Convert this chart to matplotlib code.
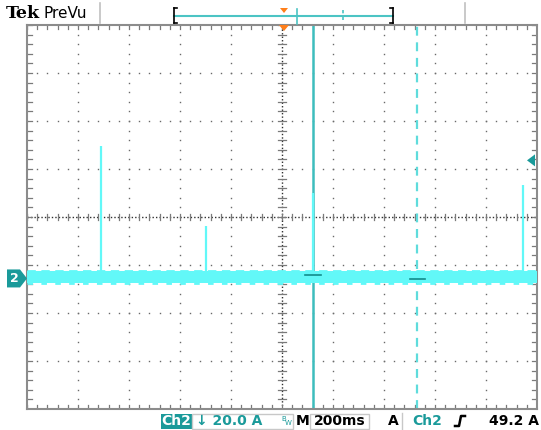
import matplotlib
matplotlib.use("Agg")
import matplotlib.pyplot as plt
import numpy as np
from matplotlib.patches import Polygon, Rectangle

# ---------------- data ----------------
time_per_div = 0.2          # s/div (200ms)
volts_per_div = 20.0        # A/div
ground_div = -1.28          # channel 2 ground marker position (div from centre)
trigger_level = 49.2        # A
noise_low = -1.8            # A  (baseline noise band)
noise_high = 3.3            # A
spike_times = [-0.71, -0.298, 0.122, 0.946]   # s
spike_peaks = [55.0, 22.0, 35.6, 39.0]        # A
cursor_times = [0.122, 0.53]                  # s (solid, dashed)
cursor_levels = [1.5, -0.2]                   # A (cursor readout marks)
labels_bottom = ["Ch2", "\u2193 20.0 A", "M", "200ms", "A", "Ch2", "49.2 A"]

W, H = 541, 430
fig = plt.figure(figsize=(W / 100, H / 100), dpi=100)
fig.patch.set_facecolor("white")

def fx(x):
    return x / W

def fy(y):
    return 1 - y / H

L, R, T, B = 27, 537, 25, 409
ax = fig.add_axes([fx(L), fy(B), (R - L) / W, (B - T) / H])
xmin, xmax = -5 * time_per_div, 5 * time_per_div
ymin = (-4 - ground_div) * volts_per_div
ymax = (4 - ground_div) * volts_per_div
ax.set_xlim(xmin, xmax)
ax.set_ylim(ymin, ymax)
ax.set_xticks([])
ax.set_yticks([])
for s in ax.spines.values():
    s.set_color("#8c8c8c")
    s.set_linewidth(1.5)

grid_c = "#6a6a6a"
xs_major = [(k - 5) * time_per_div for k in range(11)]
ys_major = [(k - ground_div) * volts_per_div for k in range(-4, 5)]
xs_minor = [(k / 5 - 5) * time_per_div for k in range(51)]
ys_minor = [(k / 5 - ground_div) * volts_per_div for k in range(-20, 21)]

# dotted major grid lines
for gx in xs_major[1:-1]:
    if abs(gx) < 1e-9:
        continue
    ax.plot([gx] * len(ys_minor), ys_minor, ls="none", marker="s", ms=1.0,
            color=grid_c, mew=0, zorder=1)
for gy in ys_major[1:-1]:
    if abs(gy - (-ground_div * volts_per_div)) < 1e-9:
        continue
    ax.plot(xs_minor, [gy] * len(xs_minor), ls="none", marker="s", ms=1.0,
            color=grid_c, mew=0, zorder=1)

# centre crosshair
cy = -ground_div * volts_per_div
ax.plot([xmin, xmax], [cy, cy], ls=(0, (1, 1.5)), lw=1.0, color="#303030", zorder=1)
ax.plot([0, 0], [ymin, ymax], ls=(0, (1, 1.5)), lw=1.0, color="#303030", zorder=1)
tx = 0.008 * (xmax - xmin)
ty = 0.009 * (ymax - ymin)
for mx in xs_minor:
    ax.plot([mx, mx], [cy - ty, cy + ty], color="#7a7a7a", lw=0.9, zorder=1)
    ax.plot([mx, mx], [ymin, ymin + ty * 1.3], color="#7a7a7a", lw=0.9, zorder=1)
    ax.plot([mx, mx], [ymax - ty * 1.3, ymax], color="#7a7a7a", lw=0.9, zorder=1)
for my in ys_minor:
    ax.plot([-tx, tx], [my, my], color="#7a7a7a", lw=0.9, zorder=1)
    ax.plot([xmin, xmin + tx * 1.2], [my, my], color="#7a7a7a", lw=0.9, zorder=1)
    ax.plot([xmax - tx * 1.2, xmax], [my, my], color="#7a7a7a", lw=0.9, zorder=1)

trace_c = "#62f8f8"
# baseline noise band
ax.fill_between([xmin, xmax], [noise_low] * 2, [noise_high] * 2, color=trace_c,
                lw=0, zorder=3)
ax.plot([xmin, xmax], [noise_low, noise_low], color=trace_c, lw=2.0, ls=(0, (2, 3)), zorder=3)
ax.plot([xmin, xmax], [noise_high, noise_high], color=trace_c, lw=2.0, ls=(0, (3, 2)), zorder=3)

# cursors
ax.axvline(cursor_times[0], color="#3dbdbd", lw=1.8, zorder=2)
ax.axvline(cursor_times[1], color="#5fdcdc", lw=1.6, ls=(0, (4, 3)), zorder=2)
ax.plot([cursor_times[0] - 0.03, cursor_times[0] + 0.03], [cursor_levels[0]] * 2,
        color="#138c8c", lw=1.2, zorder=5)
ax.plot([cursor_times[1] - 0.03, cursor_times[1] + 0.03], [cursor_levels[1]] * 2,
        color="#138c8c", lw=1.2, zorder=5)

# spikes
for t, p in zip(spike_times, spike_peaks):
    ax.plot([t, t], [0, p], color=trace_c, lw=1.6, zorder=4, solid_capstyle="butt")

# ---------------- decorations in figure pixel space ----------------
def poly(pts, color, z=10):
    fig.patches.append(Polygon([(fx(x), fy(y)) for x, y in pts], closed=True,
                               transform=fig.transFigure, facecolor=color,
                               edgecolor="none", zorder=z))

def line(xs, ys, color, lw=1.0, ls="-", z=10):
    fig.add_artist(plt.Line2D([fx(x) for x in xs], [fy(y) for y in ys],
                              transform=fig.transFigure, color=color, lw=lw,
                              ls=ls, zorder=z))

def text(x, y, s, **kw):
    fig.text(fx(x), fy(y), s, transform=fig.transFigure, **kw)

teal = "#1a9a9a"
orange = "#ff7f1a"

# ground marker "2"
gy_px = 217 - ground_div * 48
poly([(7, gy_px - 9), (20, gy_px - 9), (27, gy_px), (20, gy_px + 9), (7, gy_px + 9)], teal)
text(14, gy_px + 0.5, "2", color="white", fontsize=9, fontweight="bold",
     ha="center", va="center", zorder=11)

# trigger level arrow on the right
ty_px = 217 - (trigger_level / volts_per_div + ground_div) * 48
poly([(527, ty_px), (535, ty_px - 6), (535, ty_px + 6)], teal)

# trigger position marker at top of graticule
poly([(279, 25), (289, 25), (284, 31)], orange)

# top bar
text(6, 14, "Tek", fontsize=12.5, fontweight="bold", family="DejaVu Serif",
     ha="left", va="center", color="black")
text(43, 14, "PreVu", fontsize=11, ha="left", va="center", color="black")
line([100, 100], [3, 23], "#c0c0c0", lw=1.2)
line([465, 465], [3, 23], "#c0c0c0", lw=1.2)
line([174, 393], [16, 16], "#4cc4c4", lw=1.5)
line([174, 174], [8, 23], "black", lw=1.2)
line([174, 177], [8, 8], "black", lw=1.2)
line([174, 177], [23, 23], "black", lw=1.2)
line([393, 393], [8, 23], "black", lw=1.2)
line([390, 393], [8, 8], "black", lw=1.2)
line([390, 393], [23, 23], "black", lw=1.2)
line([297, 297], [9, 24], "#4cc4c4", lw=1.2)
line([343, 343], [10, 22], "#4cc4c4", lw=1.2, ls=(0, (2, 2)))
poly([(280, 8), (288, 8), (284, 13)], orange)

# bottom status bar
by = 421
fs = 10
fig.patches.append(Rectangle((fx(161), fy(429)), (192 - 161) / W, 15 / H,
                             transform=fig.transFigure, facecolor=teal,
                             edgecolor="none", zorder=10))
text(176.5, by, labels_bottom[0], color="white", fontsize=fs, fontweight="bold",
     ha="center", va="center", zorder=11)
fig.patches.append(Rectangle((fx(192), fy(429)), (293 - 192) / W, 15 / H,
                             transform=fig.transFigure, facecolor="none",
                             edgecolor="#c8c8c8", lw=1, zorder=10))
text(196, by, labels_bottom[1], color=teal, fontsize=fs, fontweight="bold",
     ha="left", va="center", zorder=11)
text(281, by - 2, "B", color=teal, fontsize=5, ha="left", va="center")
text(285, by + 2, "W", color=teal, fontsize=5, ha="left", va="center")
text(296, by, labels_bottom[2], color="black", fontsize=fs, fontweight="bold",
     ha="left", va="center")
fig.patches.append(Rectangle((fx(310), fy(429)), (369 - 310) / W, 15 / H,
                             transform=fig.transFigure, facecolor="none",
                             edgecolor="#c8c8c8", lw=1, zorder=10))
text(340, by, labels_bottom[3], color="black", fontsize=fs, fontweight="bold",
     ha="center", va="center")
text(388, by, labels_bottom[4], color="black", fontsize=fs, fontweight="bold",
     ha="left", va="center")
line([402, 402], [413, 429], "#c8c8c8", lw=1)
text(412, by, labels_bottom[5], color=teal, fontsize=fs, fontweight="bold",
     ha="left", va="center")
# rising-edge slope symbol
line([455, 459, 460, 461, 465], [426, 426, 421, 416, 416], "black", lw=1.8)
text(539, by, labels_bottom[6], color="black", fontsize=fs, fontweight="bold",
     ha="right", va="center")

fig.savefig("out.png", dpi=100, facecolor="white")
